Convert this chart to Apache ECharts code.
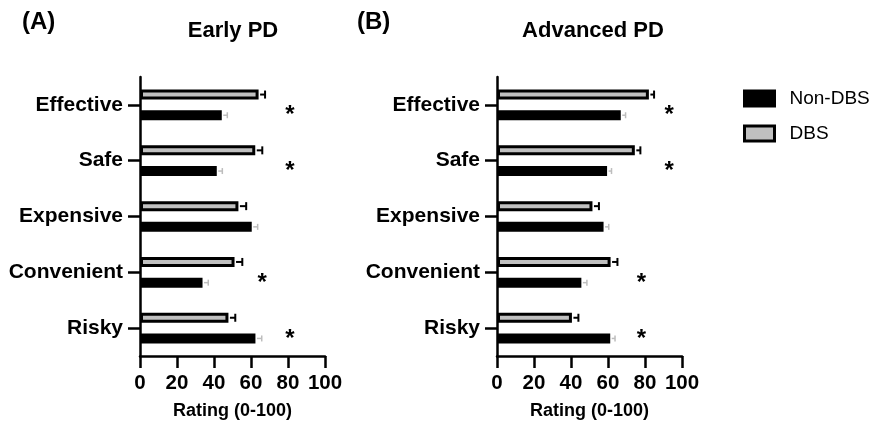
<!DOCTYPE html>
<html>
<head>
<meta charset="utf-8">
<script src="https://cdn.jsdelivr.net/npm/echarts@6/dist/echarts.min.js"></script>
<style>
  html, body { margin: 0; padding: 0; background: #fff; }
  #main { width: 885px; height: 425px; }
</style>
</head>
<body>
<div id="main"></div>
<script>
var categories = ['Effective', 'Safe', 'Expensive', 'Convenient', 'Risky'];
var ticks = [0, 20, 40, 60, 80, 100];

// Early PD
var earlyDBS = [64.1, 62.3, 53.2, 51.1, 47.8];
var earlyDBSErr = [3.5, 3.8, 4.2, 4.2, 3.7];
var earlyNon = [44.2, 41.5, 60.4, 33.8, 62.4];
var earlyNonErr = [3.0, 3.0, 3.2, 3.1, 3.4];
var earlyStar = [81, 81, null, 66, 81];

// Advanced PD
var advDBS = [82.1, 74.5, 51.6, 61.4, 40.5];
var advDBSErr = [2.8, 3.0, 3.5, 3.7, 3.5];
var advNon = [66.9, 59.5, 57.6, 45.6, 61.2];
var advNonErr = [2.6, 2.4, 2.8, 3.0, 2.6];
var advStar = [93, 93, null, 78, 78];

var FONT = 'Liberation Sans';
var BAR_W = 10;
var BAR_GAP = 10.7;
var OFF = (BAR_W + BAR_GAP) / 2;

var myChart = echarts.init(document.getElementById('main'));

function errorItem(offset, color, capH, lw, startGap) {
    return function (params, api) {
        var c = api.value(1);
        var p0 = api.coord([api.value(0), c]);
        var p1 = api.coord([api.value(0) + api.value(2), c]);
        var y = p0[1] + offset;
        return {
            type: 'group',
            children: [
                { type: 'line', shape: { x1: p0[0] + startGap, y1: y, x2: p1[0], y2: y }, style: { stroke: color, lineWidth: lw } },
                { type: 'line', shape: { x1: p1[0], y1: y - capH / 2, x2: p1[0], y2: y + capH / 2 }, style: { stroke: color, lineWidth: lw } }
            ]
        };
    };
}

function starItem(params, api) {
    var p = api.coord([api.value(0), api.value(1)]);
    return {
        type: 'text',
        x: p[0],
        y: p[1] + OFF + 0.5,
        style: { text: '*', fontSize: 24, fontWeight: 'bold', fontFamily: FONT, fill: '#000', align: 'center', verticalAlign: 'middle' }
    };
}

function withErr(vals, errs) {
    return vals.map(function (v, i) { return [v, i, errs[i]]; });
}
function stars(arr) {
    return arr.map(function (v, i) { return [v, i]; }).filter(function (d) { return d[0] != null; });
}

function xAxisFor(idx) {
    return {
        type: 'value',
        gridIndex: idx,
        min: ticks[0],
        max: ticks[ticks.length - 1],
        interval: ticks[1] - ticks[0],
        name: 'Rating (0-100)',
        nameLocation: 'middle',
        nameGap: 46,
        nameTextStyle: { fontSize: 18, fontWeight: 'bold', color: '#000', fontFamily: FONT },
        axisLine: { show: true, lineStyle: { color: '#000', width: 2.5 } },
        axisTick: { show: true, length: 12, lineStyle: { color: '#000', width: 2.5 } },
        axisLabel: { margin: 17, fontSize: 20.5, fontWeight: 'bold', color: '#000', fontFamily: FONT },
        splitLine: { show: false }
    };
}
function yAxisFor(idx) {
    return {
        type: 'category',
        gridIndex: idx,
        inverse: true,
        data: categories,
        axisLine: { show: true, lineStyle: { color: '#000', width: 2.5 } },
        axisTick: { show: true, alignWithLabel: true, length: 12, lineStyle: { color: '#000', width: 2.5 } },
        axisLabel: { margin: 17, fontSize: 21, fontWeight: 'bold', color: '#000', fontFamily: FONT }
    };
}

var dbsStyle = { color: '#c0c0c0', borderColor: '#000', borderWidth: 3 };
var nonStyle = { color: '#000', borderColor: '#000', borderWidth: 3 };

function barsFor(idx, dbs, dbsErr, non, nonErr, star) {
    return [
        { name: 'DBS', type: 'bar', xAxisIndex: idx, yAxisIndex: idx, data: dbs, barWidth: BAR_W, barGap: (BAR_GAP / BAR_W * 100) + '%', itemStyle: dbsStyle },
        { name: 'Non-DBS', type: 'bar', xAxisIndex: idx, yAxisIndex: idx, data: non, barWidth: BAR_W, barGap: (BAR_GAP / BAR_W * 100) + '%', itemStyle: nonStyle },
        { name: 'errDBS' + idx, type: 'custom', xAxisIndex: idx, yAxisIndex: idx, data: withErr(dbs, dbsErr), encode: { x: 0, y: 1 }, renderItem: errorItem(-OFF, '#000', 8, 2, 1.5), z: 3 },
        { name: 'errNon' + idx, type: 'custom', xAxisIndex: idx, yAxisIndex: idx, data: withErr(non, nonErr), encode: { x: 0, y: 1 }, renderItem: errorItem(OFF, '#bdbdbd', 6, 1.5, 1.5), z: 3 },
        { name: 'star' + idx, type: 'custom', xAxisIndex: idx, yAxisIndex: idx, data: stars(star), encode: { x: 0, y: 1 }, renderItem: starItem, z: 3 }
    ];
}

var option = {
    animation: false,
    textStyle: { fontFamily: FONT },
    grid: [
        { left: 140, width: 185, top: 77, height: 283 },
        { left: 497, width: 185, top: 77, height: 283 }
    ],
    xAxis: [xAxisFor(0), xAxisFor(1)],
    yAxis: [yAxisFor(0), yAxisFor(1)],
    legend: {
        orient: 'vertical',
        left: 738,
        top: 84,
        icon: 'rect',
        itemWidth: 30,
        itemHeight: 15,
        itemGap: 16,
        selectedMode: false,
        itemStyle: { borderWidth: 3, borderColor: '#000' },
        textStyle: { fontSize: 19, color: '#000', fontFamily: FONT, padding: [0, 0, 0, 10] },
        data: ['Non-DBS', 'DBS']
    },
    graphic: [
        { type: 'text', left: 22, top: 10, style: { text: '(A)', fontSize: 24, fontWeight: 'bold', fill: '#000', fontFamily: FONT } },
        { type: 'text', left: 357, top: 10, style: { text: '(B)', fontSize: 24, fontWeight: 'bold', fill: '#000', fontFamily: FONT } },
        { type: 'text', x: 233, y: 31, style: { text: 'Early PD', fontSize: 22, fontWeight: 'bold', fill: '#000', fontFamily: FONT, align: 'center', verticalAlign: 'middle' } },
        { type: 'text', x: 593, y: 31, style: { text: 'Advanced PD', fontSize: 22, fontWeight: 'bold', fill: '#000', fontFamily: FONT, align: 'center', verticalAlign: 'middle' } }
    ],
    series: barsFor(0, earlyDBS, earlyDBSErr, earlyNon, earlyNonErr, earlyStar)
        .concat(barsFor(1, advDBS, advDBSErr, advNon, advNonErr, advStar))
};

myChart.setOption(option);
</script>
</body>
</html>
